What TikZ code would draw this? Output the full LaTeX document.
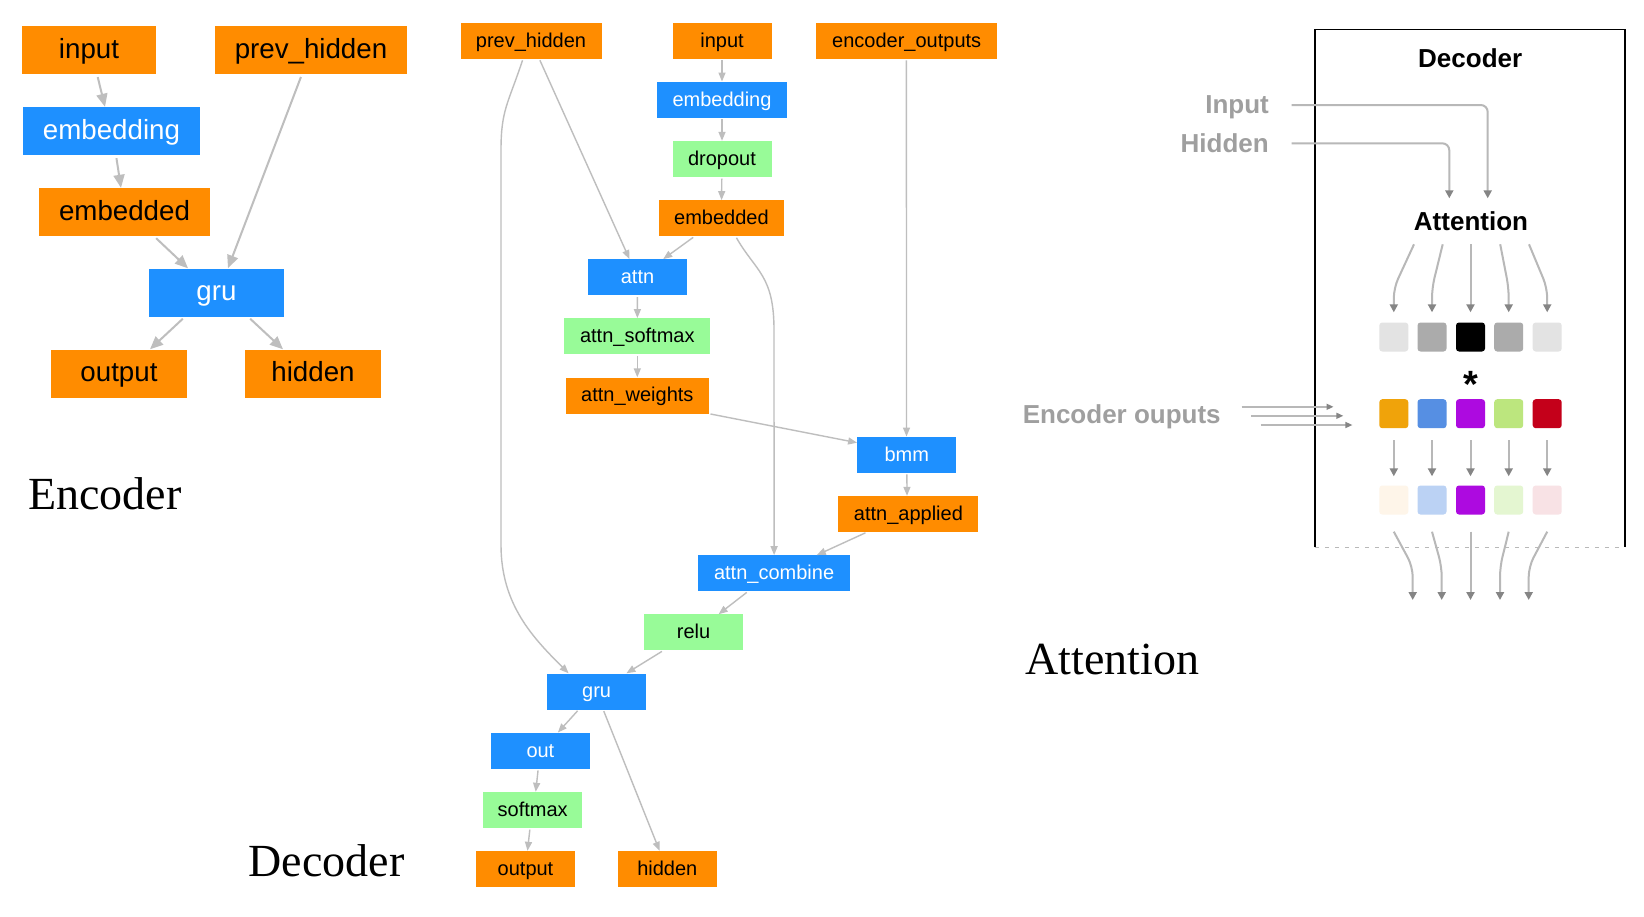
\documentclass[tikz,border=0pt]{standalone}
\usepackage{fontspec}
\setmainfont{Liberation Sans}
\newfontfamily\serifface{Liberation Serif}
\usetikzlibrary{arrows.meta}
\definecolor{gvorange}{HTML}{FF8C00}
\definecolor{gvblue}{HTML}{1E90FF}
\definecolor{gvgreen}{HTML}{98FB98}
\definecolor{edgegray}{HTML}{BEBEBE}
\definecolor{labgray}{HTML}{9F9F9F}
\definecolor{linegray}{HTML}{B8B8B8}
\definecolor{tipgray}{HTML}{858585}
\definecolor{sqA}{HTML}{E3E3E3}
\definecolor{sqB}{HTML}{ABABAB}
\definecolor{cOr}{HTML}{F0A30A}
\definecolor{cBl}{HTML}{568FE3}
\definecolor{cPu}{HTML}{AD0AE0}
\definecolor{cGr}{HTML}{BCE67E}
\definecolor{cRd}{HTML}{C4001A}
\definecolor{lOr}{HTML}{FEF5E9}
\definecolor{lBl}{HTML}{BBD2F4}
\definecolor{lGr}{HTML}{E4F6D1}
\definecolor{lRd}{HTML}{F8E2E5}
\tikzset{
  ebox/.style={rectangle, inner sep=0pt, minimum height=48pt, text height=21pt, text depth=5pt, font=\fontsize{27.7}{33}\selectfont},
  dbox/.style={rectangle, inner sep=0pt, minimum height=36pt, text height=15pt, text depth=2.4pt, font=\fontsize{20}{24}\selectfont},
  orn/.style={fill=gvorange, text=black},
  blu/.style={fill=gvblue, text=white},
  grn/.style={fill=gvgreen, text=black},
  earr/.style={draw=edgegray, line width=2pt, -{Triangle[length=13pt,width=11pt]}, shorten <=3pt},
  darr/.style={draw=edgegray, line width=1.4pt, -{Triangle[length=9pt,width=7pt]}, shorten <=1.5pt},
  plab/.style={inner sep=0pt, font=\bfseries\fontsize{26}{30}\selectfont},
  parr/.style={draw=linegray, line width=2pt, -{Triangle[length=8pt,width=8pt,color=tipgray]}},
  thinarr/.style={draw=linegray, line width=1.5pt, -{Triangle[length=7pt,width=6pt,color=tipgray]}},
  sq/.style={rectangle, minimum size=29pt, inner sep=0pt, rounded corners=3pt},
  bigtitle/.style={inner sep=0pt, anchor=base west, font=\serifface\fontsize{46}{52}\selectfont},
}
\begin{document}
\begin{tikzpicture}[x=1pt,y=-1pt]
\useasboundingbox (0,0) rectangle (1644,916);
\fill[white] (0,0) rectangle (1644,916);

% ================= Encoder =================
\node[ebox,orn,minimum width=134pt] (ein)   at (89,50)     {input};
\node[ebox,orn,minimum width=192pt] (eprev) at (311,50)    {prev\_hidden};
\node[ebox,blu,minimum width=177pt] (eemb)  at (111.5,131) {embedding};
\node[ebox,orn,minimum width=171pt] (eembd) at (124.5,212) {embedded};
\node[ebox,blu,minimum width=135pt] (egru)  at (216.5,292.5) {gru};
\node[ebox,orn,minimum width=136pt] (eout)  at (119,373.5) {output};
\node[ebox,orn,minimum width=136pt] (ehid)  at (313,373.5) {hidden};

\draw[earr] ([xshift=8pt]ein.south) -- ([xshift=-6.5pt]eemb.north);
\draw[earr] ([xshift=4.5pt]eemb.south) -- ([xshift=-3.5pt]eembd.north);
\draw[earr] ([xshift=29.5pt]eembd.south) -- ([xshift=-28.5pt]egru.north);
\draw[earr] ([xshift=-9pt]eprev.south) -- ([xshift=11.5pt]egru.north);
\draw[earr] ([xshift=-31.5pt]egru.south) -- ([xshift=31pt]eout.north);
\draw[earr] ([xshift=31.5pt]egru.south) -- ([xshift=-30pt]ehid.north);

\node[bigtitle] (enctitle) at (28,509.6) {Encoder};

% ================= Decoder =================
\node[dbox,orn,minimum width=141pt] (dprev)    at (531,40.7)    {prev\_hidden};
\node[dbox,orn,minimum width=99pt]  (dinput)   at (722,40.7)    {input};
\node[dbox,orn,minimum width=181pt] (dencout)  at (906.7,40.7)  {encoder\_outputs};
\node[dbox,blu,minimum width=130pt] (demb)     at (722,99.7)    {embedding};
\node[dbox,grn,minimum width=99pt]  (ddrop)    at (722,159)     {dropout};
\node[dbox,orn,minimum width=125pt] (dembd)    at (721.4,218.3) {embedded};
\node[dbox,blu,minimum width=99pt]  (dattn)    at (637.5,277.3) {attn};
\node[dbox,grn,minimum width=146pt] (dattnsm)  at (637.3,336.3) {attn\_softmax};
\node[dbox,orn,minimum width=143pt] (dattnw)   at (637.3,395.5) {attn\_weights};
\node[dbox,blu,minimum width=99pt]  (dbmm)     at (906.8,454.7) {bmm};
\node[dbox,orn,minimum width=140pt] (dapplied) at (908.4,514)   {attn\_applied};
\node[dbox,blu,minimum width=152pt] (dcombine) at (774.1,573.3) {attn\_combine};
\node[dbox,grn,minimum width=99pt]  (drelu)    at (693.6,632.4) {relu};
\node[dbox,blu,minimum width=99pt]  (dgru)     at (596.6,691.5) {gru};
\node[dbox,blu,minimum width=99pt]  (dout)     at (540.4,750.7) {out};
\node[dbox,grn,minimum width=99pt]  (dsoftmax) at (532.7,810)   {softmax};
\node[dbox,orn,minimum width=99pt]  (doutput)  at (525.5,869)   {output};
\node[dbox,orn,minimum width=99pt]  (dhidden)  at (667.3,869)   {hidden};

\draw[darr] ([xshift=-8pt]dprev.south) .. controls +(-15,45) and +(0,-40) .. (501,150) -- (501,545) .. controls +(0,60) and +(-35,-35) .. ([xshift=-28pt]dgru.north);
\draw[darr] ([xshift=8.3pt]dprev.south) -- ([xshift=-8pt]dattn.north);
\draw[darr] (dinput) -- (demb);
\draw[darr] (demb) -- (ddrop);
\draw[darr] (ddrop) -- (dembd);
\draw[darr] ([xshift=-27pt]dembd.south) -- ([xshift=25.7pt]dattn.north);
\draw[darr] ([xshift=14.3pt]dembd.south) .. controls +(20,35) and +(0,-55) .. (774,330) -- (dcombine.north);
\draw[darr] (dattn) -- (dattnsm);
\draw[darr] (dattnsm) -- (dattnw);
\draw[darr] (dattnw.south east) -- ([yshift=12pt]dbmm.west);
\draw[darr] ([xshift=-0.3pt]dencout.south) -- ([xshift=-0.3pt]dbmm.north);
\draw[darr] (dbmm) -- ([xshift=-1.4pt]dapplied.north);
\draw[darr] ([xshift=-41.6pt]dapplied.south) -- ([xshift=42.7pt]dcombine.north);
\draw[darr] ([xshift=-26.2pt]dcombine.south) -- ([xshift=25pt]drelu.north);
\draw[darr] ([xshift=-30.4pt]drelu.south) -- ([xshift=29.8pt]dgru.north);
\draw[darr] ([xshift=-18pt]dgru.south) -- ([xshift=17.5pt]dout.north);
\draw[darr] ([xshift=6.6pt]dgru.south) -- ([xshift=-7.7pt]dhidden.north);
\draw[darr] ([xshift=-2.2pt]dout.south) -- ([xshift=3pt]dsoftmax.north);
\draw[darr] ([xshift=-2.7pt]dsoftmax.south) -- ([xshift=2pt]doutput.north);

\node[bigtitle] (dectitle) at (248.5,876.6) {Decoder};

% ================= Attention panel =================
\draw[line width=1.6pt] (1315,547.4) -- (1315,29.6) -- (1625,29.6) -- (1625,547.4);
\draw[draw=linegray, line width=1.2pt, dash pattern=on 4pt off 6pt] (1315,547.4) -- (1625,547.4);

\node[plab, anchor=base] (ptitle) at (1470.2,67.2) {Decoder};
\node[plab, anchor=base east, text=labgray] (inlab) at (1269,113.4) {Input};
\node[plab, anchor=base east, text=labgray] (hidlab) at (1269,152.2) {Hidden};
\node[plab, anchor=base] (attlab) at (1471,230.4) {Attention};
\node[plab, anchor=base west, text=labgray] (enclab) at (1022.6,423.7) {Encoder ouputs};

\coordinate (inS) at (1291.7,105);
\coordinate (inE) at (1487.7,198.3);
\coordinate (hidS) at (1291.7,143.3);
\coordinate (hidE) at (1449.3,198.3);
\draw[parr, rounded corners=7pt] (inS) -| (inE);
\draw[parr, rounded corners=7pt] (hidS) -| (hidE);

% squares
\node[sq, fill=sqA]   (r1c1) at (1393.8,337) {};
\node[sq, fill=sqB]   (r1c2) at (1432,337) {};
\node[sq, fill=black] (r1c3) at (1470.5,337) {};
\node[sq, fill=sqB]   (r1c4) at (1508.7,337) {};
\node[sq, fill=sqA]   (r1c5) at (1547.2,337) {};

\node[font=\bfseries\fontsize{38}{40}\selectfont, anchor=base, inner sep=0pt] (star) at (1470.5,397) {*};

\node[sq, fill=cOr] (r2c1) at (1393.8,413.7) {};
\node[sq, fill=cBl] (r2c2) at (1432,413.7) {};
\node[sq, fill=cPu] (r2c3) at (1470.5,413.7) {};
\node[sq, fill=cGr] (r2c4) at (1508.7,413.7) {};
\node[sq, fill=cRd] (r2c5) at (1547.2,413.7) {};

\node[sq, fill=lOr] (r3c1) at (1393.8,500) {};
\node[sq, fill=lBl] (r3c2) at (1432,500) {};
\node[sq, fill=cPu] (r3c3) at (1470.5,500) {};
\node[sq, fill=lGr] (r3c4) at (1508.7,500) {};
\node[sq, fill=lRd] (r3c5) at (1547.2,500) {};

% fan from Attention to row 1
\draw[parr, rounded corners=10pt] (1414,244.3) -- (r1c1.north |- 0,288) -- ([yshift=10pt]r1c1.north);
\draw[parr, rounded corners=10pt] (1442.7,244.3) -- (r1c2.north |- 0,288) -- ([yshift=10pt]r1c2.north);
\draw[parr] (1470.5,244.3) -- ([yshift=10pt]r1c3.north);
\draw[parr, rounded corners=10pt] (1500.2,244.3) -- (r1c4.north |- 0,288) -- ([yshift=10pt]r1c4.north);
\draw[parr, rounded corners=10pt] (1529,244.3) -- (r1c5.north |- 0,288) -- ([yshift=10pt]r1c5.north);

% encoder outputs arrows
\draw[thinarr] (1241.5,406.8) -- (1333.5,406.8);
\draw[thinarr] (1251.3,415.8) -- (1343.3,415.8);
\draw[thinarr] (1260.8,425) -- (1352.4,425);

% row 2 -> row 3
\foreach \i in {1,...,5}{
  \draw[parr] ([yshift=-12pt]r2c\i.south) -- ([yshift=9pt]r3c\i.north);
}

% bottom fan
\draw[parr, rounded corners=10pt] ([yshift=-17pt]r3c1.south) -- (1412.7,566.7) -- (1412.7,600);
\draw[parr, rounded corners=10pt] ([yshift=-17pt]r3c2.south) -- (1441.7,566.7) -- (1441.7,600);
\draw[parr] ([yshift=-17pt]r3c3.south) -- (1470.5,600);
\draw[parr, rounded corners=10pt] ([yshift=-17pt]r3c4.south) -- (1500,566.7) -- (1500,600);
\draw[parr, rounded corners=10pt] ([yshift=-17pt]r3c5.south) -- (1528.7,566.7) -- (1528.7,600);

\node[bigtitle] (atttitle) at (1025.5,674) {Attention};
\end{tikzpicture}
\end{document}
